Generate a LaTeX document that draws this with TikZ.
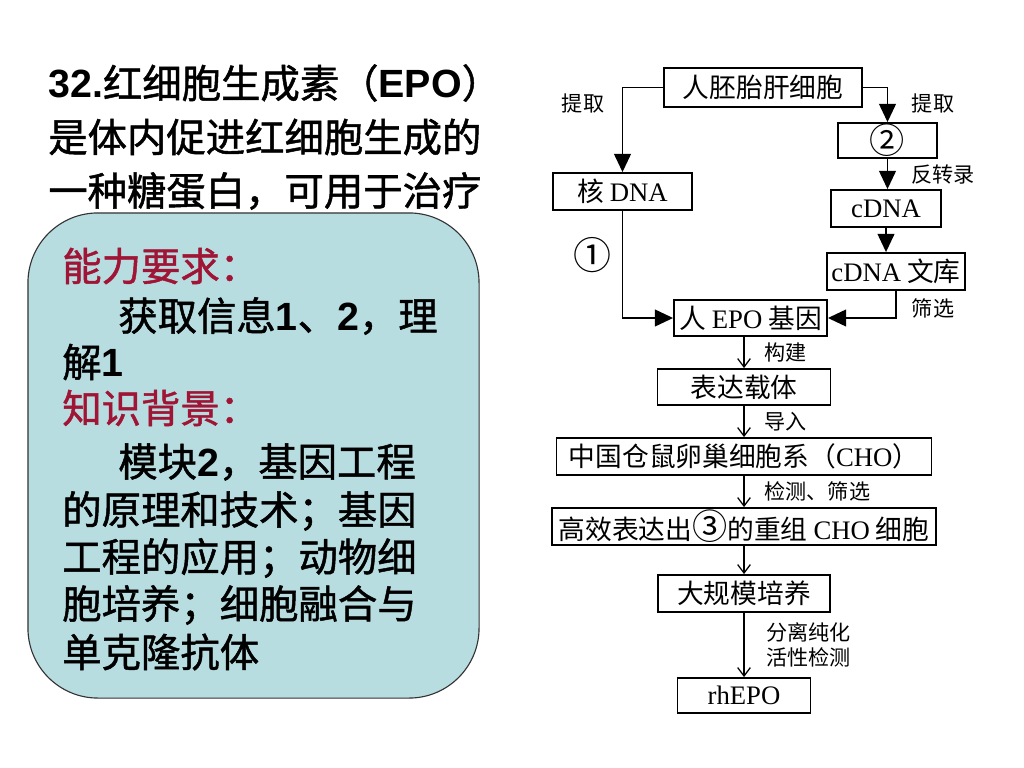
\documentclass[tikz,border=0pt]{standalone}
\usepackage{fontspec}
\setmainfont{Noto Sans CJK SC}[BoldFont=Noto Sans CJK SC, BoldFeatures={FakeBold=1.2}]
\newfontfamily\arialf{Liberation Sans}
\newfontfamily\timesf{Liberation Serif}
\usetikzlibrary{arrows.meta,positioning}
\definecolor{noteFill}{HTML}{B8DDE1}
\definecolor{noteLine}{HTML}{333333}
\definecolor{headColor}{HTML}{A01535}
\newcommand{\lat}[1]{{\timesf #1}}
\newcommand{\bnum}[1]{{\arialf\bfseries #1}}
\newcommand{\circd}[1]{{\fontsize{25}{25}\selectfont #1}}
\tikzset{
	stepbox/.style={draw, line width=1.3pt, inner sep=0pt, minimum height=0.925cm,
		font=\fontsize{19}{21}\selectfont},
	fat/.style={-{Triangle[length=13pt,width=12pt]}, line width=1.2pt},
	slim/.style={-{Straight Barb[length=6pt,width=9pt]}, line width=0.9pt},
	lab/.style={font=\fontsize{15}{18}\selectfont, inner sep=0pt},
	qline/.style={font=\fontsize{28}{30}\selectfont\bfseries, inner sep=0pt, anchor=west}
}

\begin{document}
\begin{tikzpicture}[x=0.025cm, y=-0.025cm]
\useasboundingbox (0,0) rectangle (1024,768);
% question text, partly hidden
\node[qline] (q1) at (48, 83) {\bnum{32.}红细胞生成素（\bnum{EPO}）};
\node[qline] (q2) at (48, 137) {是体内促进红细胞生成的};
\node[qline] (q3) at (48, 191) {一种糖蛋白，可用于治疗};
% note on top
\node[draw=noteLine, fill=noteFill, line width=0.8pt, rounded corners=1.75cm,
minimum width=11.275cm, minimum height=12.125cm] (note) at (253.5, 455.5) {};
\node[qline, text=headColor] (n1) at (62, 266) {能力要求：};
\node[qline] (n2) at (118, 316) {获取信息\bnum{1}、\bnum{2}，理};
\node[qline] (n3) at (62, 362) {解\bnum{1}};
\node[qline, text=headColor] (n4) at (62, 408) {知识背景：};
\node[qline] (n5) at (118, 462) {模块\bnum{2}，基因工程};
\node[qline] (n6) at (62, 511) {的原理和技术；基因};
\node[qline] (n7) at (62, 558) {工程的应用；动物细};
\node[qline] (n8) at (62, 605) {胞培养；细胞融合与};
\node[qline] (n9) at (62, 652) {单克隆抗体};

% flow chart
\node[stepbox, minimum width=4.95cm, minimum height=0.975cm] (liver) at (763, 87.5) {人胚胎肝细胞};
\node[stepbox, minimum width=3.475cm] (nuc) at (622.5, 191.5) {核 \lat{DNA}};
\node[stepbox, minimum width=2.475cm, minimum height=0.875cm] (mrna) at (887.5, 140.5) {\circd{②}};
\node[stepbox, minimum width=2.75cm] (cdna) at (886, 208.5) {\lat{cDNA}};
\node[stepbox, minimum width=3.45cm] (lib) at (896, 271.5) {\lat{cDNA} 文库};
\node[stepbox, minimum width=3.825cm, minimum height=0.9cm] (gene) at (750.5, 318) {人 \lat{EPO} 基因};
\node[stepbox, minimum width=4.325cm, minimum height=0.9cm] (vec) at (744, 387) {表达载体};
\node[stepbox, minimum width=9.375cm] (cho) at (744, 456.5) {中国仓鼠卵巢细胞系（\lat{CHO}）};
\node[stepbox, minimum width=9.6cm] (rcho) at (744, 526.5) {高效表达出\circd{③}的重组 \lat{CHO} 细胞};
\node[stepbox, minimum width=4.3cm] (big) at (744, 593.5) {大规模培养};
\node[stepbox, minimum width=3.325cm, minimum height=0.875cm] (rh) at (744, 695.5) {\lat{rhEPO}};

\node[lab] (get1) at (583, 103) {提取};
\node[lab] (get2) at (933, 103) {提取};
\node[lab] (rt) at (943, 175) {反转录};
\node[lab, font=\fontsize{27}{27}\selectfont] (c1) at (592, 255) {①};
\node[lab] (pick) at (933, 308) {筛选};

\draw[fat] (liver.west) -| (nuc.north);
\draw[fat] (liver.east) -| (mrna.north);
\draw[fat] (mrna.south) -- (mrna.south |- cdna.north);
\draw[fat] (cdna.south) -- (cdna.south |- lib.north);
\draw[fat] (nuc.south) |- (gene.west);
\draw[fat] (lib.south) |- (gene.east);

\path[slim] (gene.south -| vec) edge node[lab, right=0.5cm] {构建} (vec.north);
\path[slim] (vec.south) edge node[lab, right=0.5cm] {导入} (cho.north);
\path[slim] (cho.south) edge node[lab, right=0.5cm] {检测、筛选} (rcho.north);
\path[slim] (rcho.south) edge (big.north);
\path[slim] (big.south) edge node[lab, right=0.55cm, align=left] {分离纯化\\活性检测} (rh.north);
\end{tikzpicture}
\end{document}
